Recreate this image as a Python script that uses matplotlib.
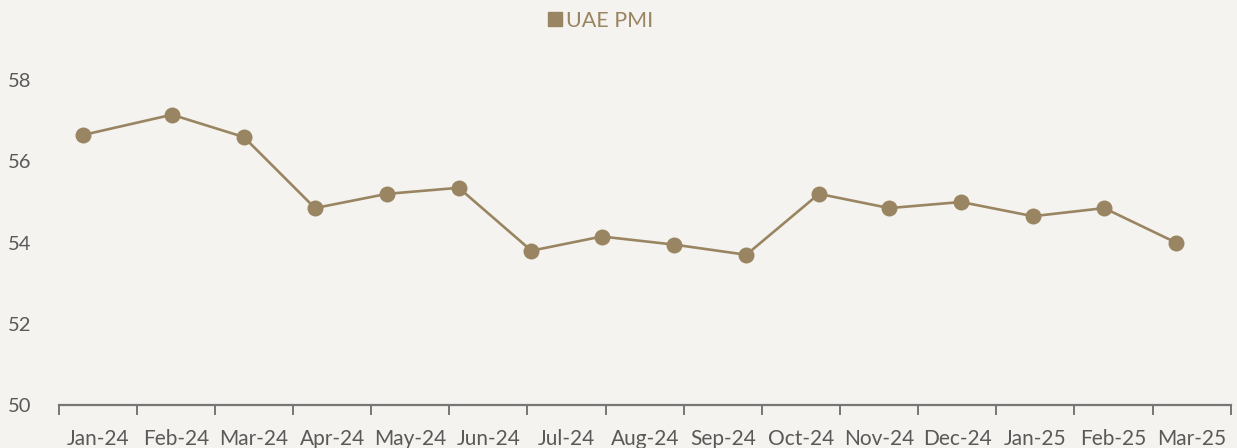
import matplotlib
matplotlib.use("Agg")
import matplotlib.pyplot as plt
from matplotlib.lines import Line2D

plt.rcParams['font.family'] = ['Lato', 'DejaVu Sans']

# Category axis labels (one per month interval)
months = ['Jan-24', 'Feb-24', 'Mar-24', 'Apr-24', 'May-24', 'Jun-24', 'Jul-24', 'Aug-24',
          'Sep-24', 'Oct-24', 'Nov-24', 'Dec-24', 'Jan-25', 'Feb-25', 'Mar-25']

# Series: position along the month axis (in month units) and PMI value
pmi_pos = [0.31, 1.45, 2.37, 3.28, 4.20, 5.12, 6.05, 6.95, 7.88, 8.80, 9.73, 10.63,
           11.55, 12.47, 13.38, 14.30]
pmi_vals = [56.65, 57.15, 56.6, 54.85, 55.2, 55.35, 53.8, 54.15, 53.95, 53.7, 55.2, 54.85,
            55.0, 54.65, 54.85, 54.0]
series_name = 'UAE PMI'

y_ticks = [50, 52, 54, 56, 58]

BG = '#F4F3EF'
LINE = '#9A8562'
TXT = '#595959'
AX = '#767676'

fig = plt.figure(figsize=(12.37, 4.48), dpi=100, facecolor=BG)
ax = fig.add_axes([58.7/1237, 43/448, (1230.7-58.7)/1237, (405-19.3)/448])
ax.set_facecolor(BG)

ax.plot(pmi_pos, pmi_vals, color=LINE, lw=1.9, marker='o', markersize=11.5,
        markeredgewidth=0, zorder=3)

ax.set_xlim(0, len(months))
ax.set_ylim(50, 59.5)

ax.set_xticks(range(len(months) + 1))
ax.set_xticklabels([])
ax.set_xticks([i + 0.5 for i in range(len(months))], minor=True)
ax.set_xticklabels(months, minor=True)
ax.tick_params(axis='x', which='major', length=7, width=1.4, color=AX, direction='out')
ax.tick_params(axis='x', which='minor', length=0, pad=17, labelsize=15, labelcolor=TXT)

ax.set_yticks(y_ticks)
ax.set_yticklabels([str(v) for v in y_ticks])
ax.tick_params(axis='y', length=0, pad=20, labelsize=14.5, labelcolor=TXT)

for s in ['top', 'left', 'right']:
    ax.spines[s].set_visible(False)
ax.spines['bottom'].set_color(AX)
ax.spines['bottom'].set_linewidth(1.6)

handle = Line2D([], [], marker='s', linestyle='none', color=LINE, markersize=10)
leg = fig.legend([handle], [series_name], loc='center', bbox_to_anchor=(600/1237, 1-21/448),
                 frameon=False, fontsize=15.5, handletextpad=0.1, handlelength=0.8,
                 labelcolor=LINE)

fig.savefig('out.png', dpi=100, facecolor=BG)
